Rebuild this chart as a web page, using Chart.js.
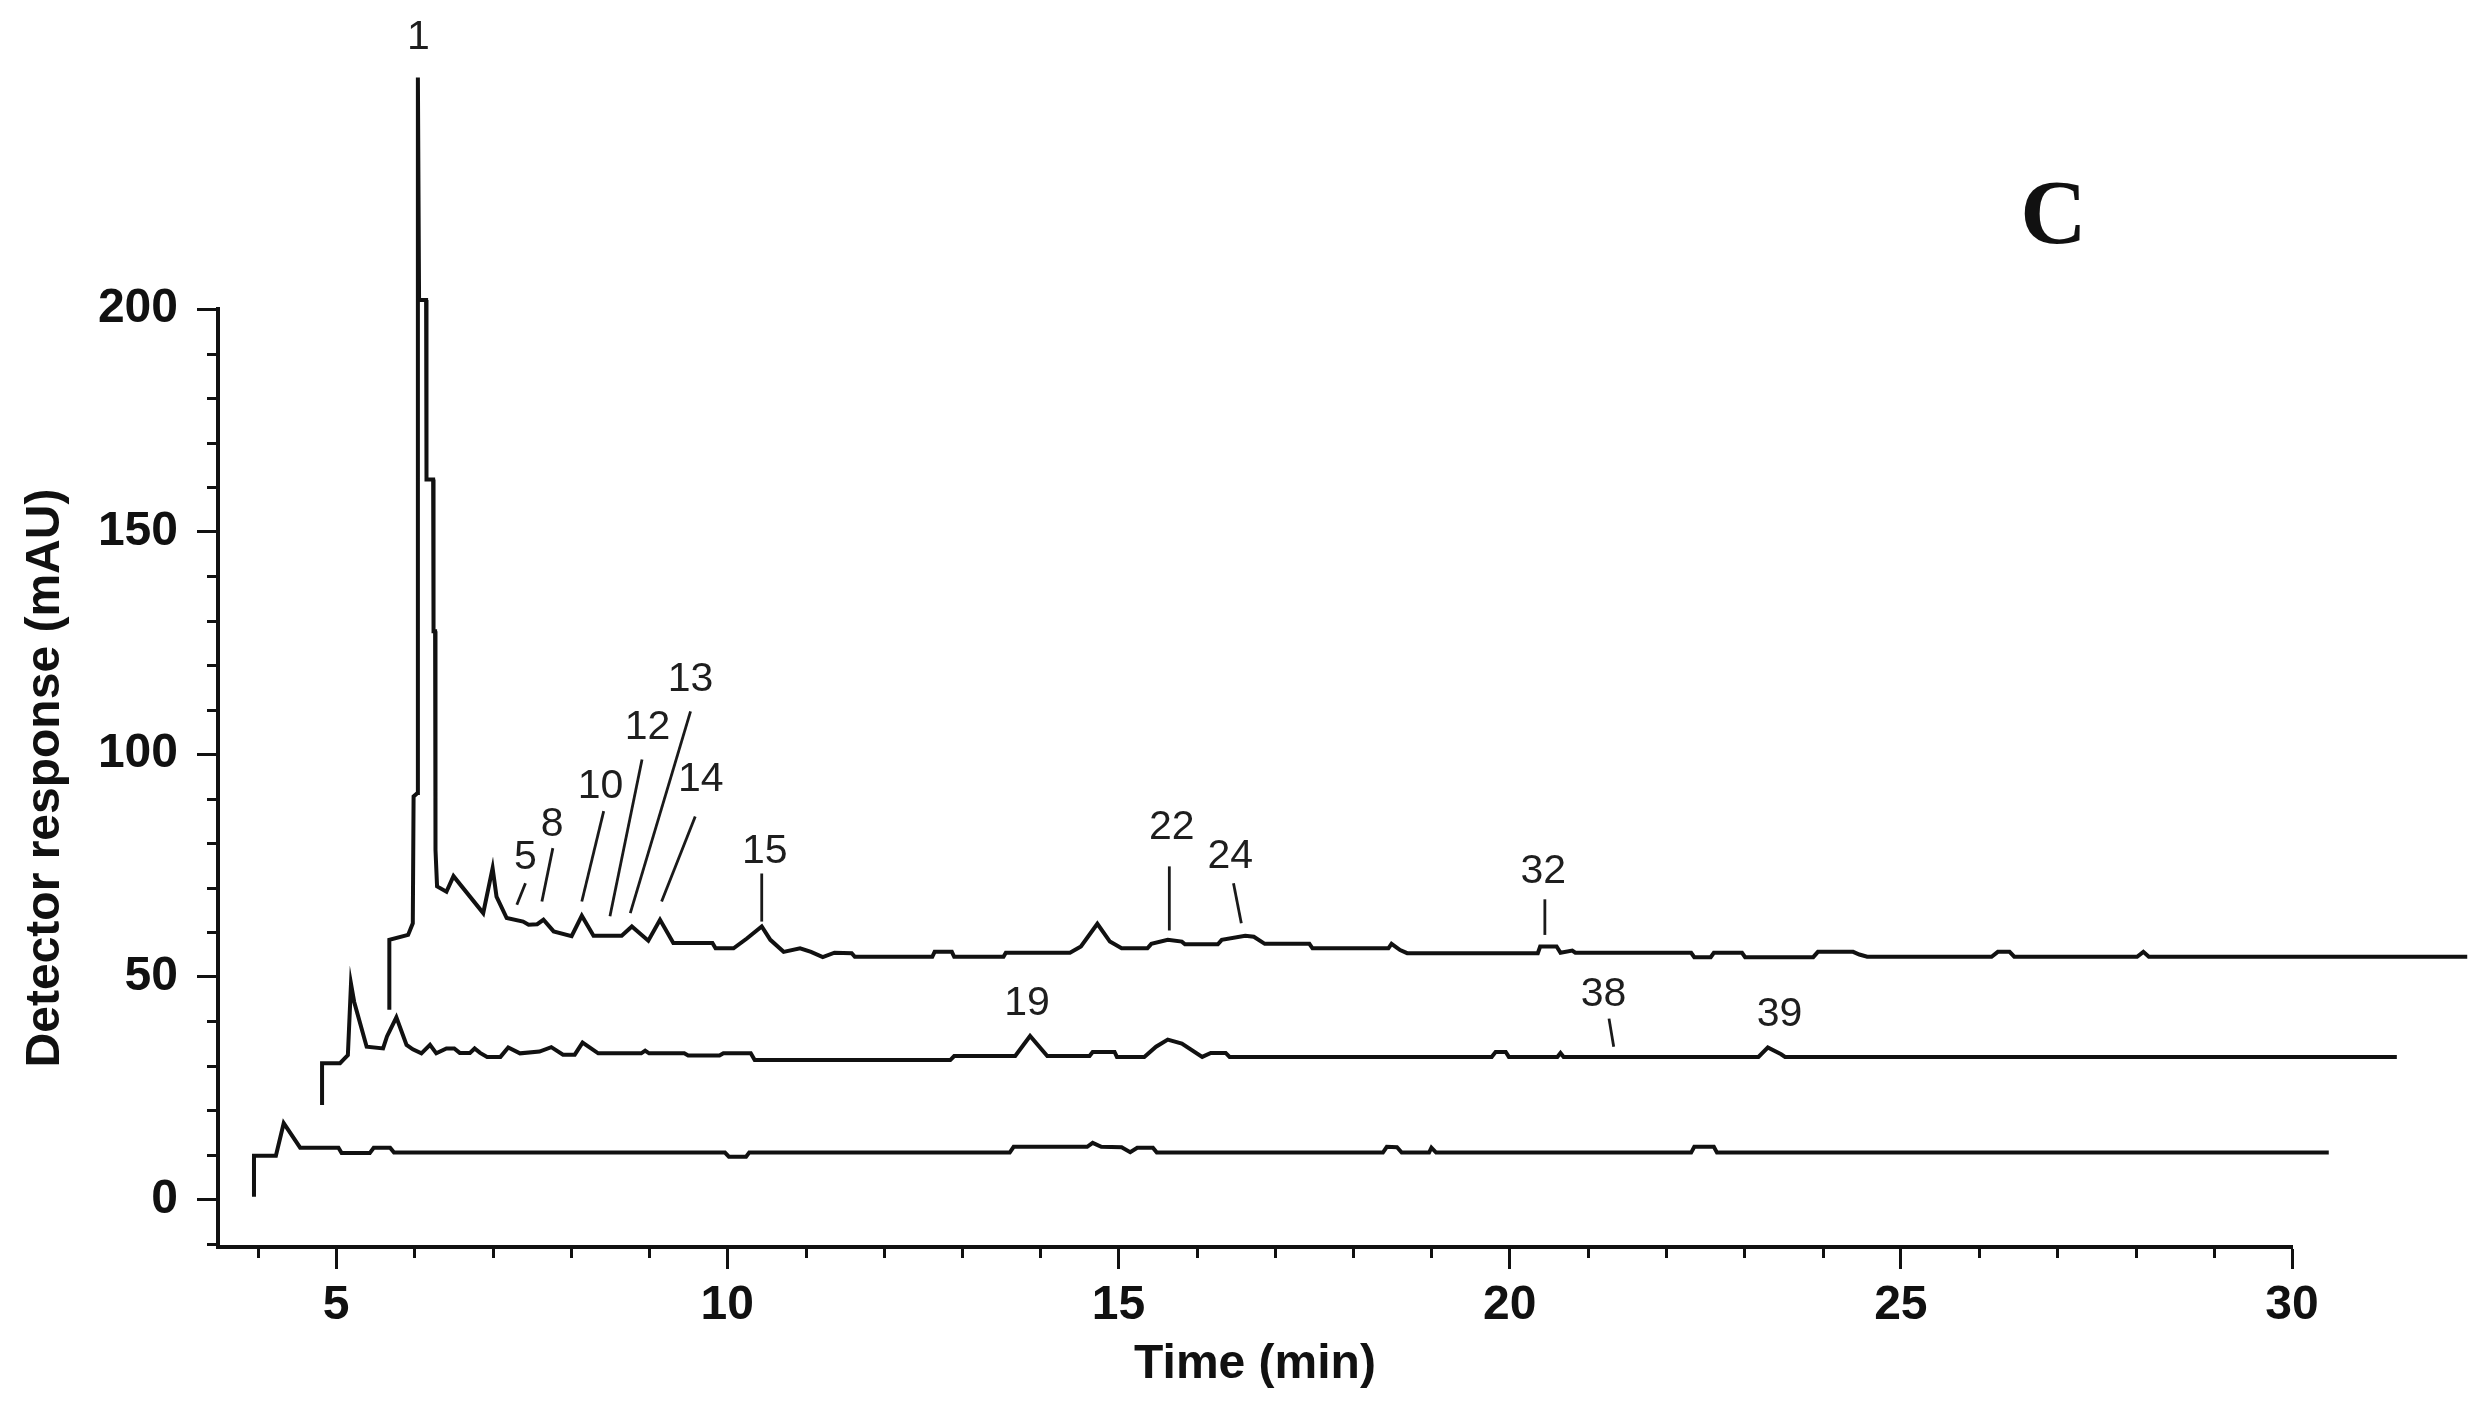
<!DOCTYPE html>
<html>
<head>
<meta charset="utf-8">
<script src="https://cdn.jsdelivr.net/npm/chart.js@4.4.1/dist/chart.umd.min.js"></script>
<style>
html,body{margin:0;padding:0;background:#fff;overflow:hidden}
#wrap{width:2491px;height:1425px;position:relative;background:#fff}
</style>
</head>
<body>
<div id="wrap"><canvas id="c" width="2491" height="1425"></canvas></div>
<script>
// ---------------- data ----------------
const xTickLabels = [5, 10, 15, 20, 25, 30];
const yTickLabels = [0, 50, 100, 150, 200];
const xMinorTicks = [4, 6, 7, 8, 9, 11, 12, 13, 14, 16, 17, 18, 19, 21, 22, 23, 24, 26, 27, 28, 29];
const yMinorTicks = [-10, 10, 20, 30, 40, 60, 70, 80, 90, 110, 120, 130, 140, 160, 170, 180, 190];

// upper chromatogram
const topTime = [5.68, 5.68, 5.92, 5.98, 5.99, 6.04, 6.045, 6.06, 6.15, 6.155, 6.24, 6.245, 6.265, 6.27, 6.29,
  6.41, 6.50, 6.88, 7.00, 7.05, 7.18, 7.39, 7.46, 7.57, 7.65, 7.78, 8.01, 8.14, 8.29, 8.65, 8.78, 8.99, 9.14,
  9.31, 9.81, 9.85, 10.08, 10.25, 10.44, 10.55, 10.72, 10.93, 11.07, 11.22, 11.37, 11.59, 11.63, 12.62, 12.65,
  12.87, 12.90, 13.53, 13.56, 14.38, 14.52, 14.73, 14.89, 15.04, 15.37, 15.42, 15.63, 15.81, 15.85, 16.27,
  16.32, 16.62, 16.73, 16.87, 17.44, 17.48, 18.45, 18.49, 18.60, 18.69, 20.36, 20.39, 20.60, 20.65, 20.80,
  20.84, 22.32, 22.36, 22.57, 22.61, 22.97, 23.01, 23.88, 23.94, 24.39, 24.47, 24.57, 26.16, 26.24, 26.39,
  26.45, 28.02, 28.10, 28.17, 32.24];
const topSignal = [42.6, 58.3, 59.4, 62.0, 90.5, 91.3, 252, 202, 202, 161.7, 161.7, 127.6, 127.6, 78.5, 70.3,
  69.1, 72.6, 64.3, 74.4, 68.0, 63.2, 62.4, 61.7, 61.8, 62.8, 60.2, 59.1, 63.7, 59.2, 59.2, 61.3, 58.1, 62.8,
  57.6, 57.6, 56.4, 56.4, 58.6, 61.3, 58.3, 55.6, 56.4, 55.6, 54.4, 55.4, 55.3, 54.5, 54.5, 55.6,
  55.6, 54.5, 54.5, 55.4, 55.4, 56.8, 61.9, 57.9, 56.4, 56.4, 57.4, 58.3, 57.9, 57.3, 57.3,
  58.3, 59.2, 59.0, 57.4, 57.4, 56.4, 56.4, 57.4, 56.0, 55.3, 55.3, 56.8, 56.8, 55.4, 55.9,
  55.4, 55.4, 54.4, 54.4, 55.4, 55.4, 54.4, 54.4, 55.6, 55.6, 55.0, 54.5, 54.5, 55.6, 55.6,
  54.5, 54.5, 55.6, 54.5, 54.5];

// middle chromatogram
const midTime = [4.82, 4.82, 5.05, 5.10, 5.15, 5.19, 5.23, 5.39, 5.60, 5.65, 5.77, 5.90, 5.98, 6.09, 6.20,
  6.28, 6.41, 6.51, 6.58, 6.71, 6.77, 6.84, 6.93, 7.10, 7.20, 7.35, 7.60, 7.75, 7.90, 8.05, 8.15, 8.35, 8.90,
  8.95, 9.00, 9.45, 9.50, 9.90, 9.95, 10.30, 10.35, 12.85, 12.90, 13.68, 13.87, 14.09, 14.63, 14.67, 14.95,
  14.98, 15.33, 15.48, 15.63, 15.81, 16.07, 16.18, 16.37, 16.42, 19.77, 19.82, 19.95, 19.99, 20.61, 20.65,
  20.69, 23.18, 23.30, 23.47, 23.52, 31.34];
const midSignal = [21.2, 30.6, 30.6, 31.5, 32.4, 48.4, 44.4, 34.3, 33.9, 36.6, 40.9, 34.7, 33.7, 32.8, 34.7,
  32.8, 33.9, 33.9, 32.9, 32.9, 33.9, 32.9, 32.0, 32.0, 34.1, 32.8, 33.2, 34.2, 32.5, 32.5, 35.2, 32.8, 32.8,
  33.4, 32.8, 32.8, 32.3, 32.3, 32.8, 32.8, 31.3, 31.3, 32.2, 32.2, 36.7, 32.2, 32.2, 33.1, 33.1,
  32.0, 32.0, 34.3, 35.9, 35.0, 32.0, 32.9, 32.9, 32.0, 32.0, 33.1, 33.1, 32.0, 32.0, 32.9,
  32.0, 32.0, 34.1, 32.6, 32.0, 32.0];

// lower chromatogram
const botTime = [3.95, 3.95, 4.23, 4.33, 4.54, 5.03, 5.07, 5.43, 5.48, 5.69, 5.74, 9.97, 10.02, 10.24, 10.28,
  13.61, 13.66, 14.60, 14.67, 14.78, 15.04, 15.15, 15.24, 15.44, 15.49, 18.38, 18.43, 18.56, 18.62, 18.97,
  19.00, 19.06, 22.32, 22.36, 22.61, 22.65, 30.47];
const botSignal = [0.6, 9.8, 9.8, 17.1, 11.6, 11.6, 10.4, 10.4, 11.6, 11.6, 10.5, 10.5, 9.6, 9.6, 10.5,
  10.5, 11.8, 11.8, 12.7, 11.8, 11.7, 10.6, 11.6, 11.6, 10.5, 10.5, 11.8, 11.7, 10.5, 10.5,
  11.6, 10.5, 10.5, 11.8, 11.8, 10.5, 10.5];

// peak numbers (text position in data units)
const peakLabels = ['1', '5', '8', '10', '12', '13', '14', '15', '22', '24', '32', '19', '38', '39'];
const peakLabelX = [6.05, 7.42, 7.76, 8.38, 8.98, 9.53, 9.66, 10.48, 15.68, 16.43, 20.43, 13.83, 21.20, 23.45];
const peakLabelY = [261, 76.7, 84.2, 92.8, 105.9, 116.8, 94.3, 78.1, 83.4, 77.0, 73.6, 44.0, 45.9, 41.4];

// leader lines from peak to number
const leaderX1 = [7.31, 7.63, 8.14, 8.50, 8.76, 9.16, 10.44, 15.65, 16.57, 20.45, 21.33];
const leaderY1 = [66.2, 66.9, 66.9, 63.6, 64.3, 66.9, 62.4, 60.4, 62.0, 59.4, 34.3];
const leaderX2 = [7.42, 7.77, 8.42, 8.91, 9.53, 9.59, 10.44, 15.65, 16.47, 20.45, 21.27];
const leaderY2 = [71.0, 78.9, 87.2, 98.8, 109.6, 86.0, 73.2, 74.8, 71.0, 67.4, 40.6];

const panelLetter = 'C';
const panelPos = [26.95, 220.1];

// ---------------- chart ----------------
const ink = '#111111';
const sans = '"Liberation Sans", Arial, Helvetica, sans-serif';
Chart.defaults.color = ink;

function pts(t, v) { return t.map((x, i) => ({ x: x, y: v[i] })); }

const traceStyle = { showLine: true, pointRadius: 0, borderColor: ink, borderWidth: 4,
  fill: false, tension: 0, clip: false, spanGaps: true };

const datasets = [];
leaderX1.forEach((v, i) => {
  datasets.push(Object.assign({}, traceStyle, {
    label: 'leader ' + i, borderWidth: 2.8, borderColor: '#1a1a1a',
    data: [{ x: leaderX1[i], y: leaderY1[i] }, { x: leaderX2[i], y: leaderY2[i] }]
  }));
});
datasets.push(Object.assign({}, traceStyle, { label: 'Sample 3', data: pts(topTime, topSignal) }));
datasets.push(Object.assign({}, traceStyle, { label: 'Sample 2', data: pts(midTime, midSignal) }));
datasets.push(Object.assign({}, traceStyle, { label: 'Sample 1', data: pts(botTime, botSignal) }));

const decor = {
  id: 'decor',
  afterDraw(chart) {
    const { ctx, chartArea: a, scales: { x, y } } = chart;
    ctx.save();
    ctx.strokeStyle = ink;
    ctx.lineWidth = 3;
    ctx.lineCap = 'butt';
    ctx.beginPath();
    yMinorTicks.forEach(v => {
      const py = Math.round(y.getPixelForValue(v)) + 0.5;
      ctx.moveTo(a.left - 11, py); ctx.lineTo(a.left, py);
    });
    xMinorTicks.forEach(v => {
      const px = Math.round(x.getPixelForValue(v)) + 0.5;
      ctx.moveTo(px, a.bottom); ctx.lineTo(px, a.bottom + 11);
    });
    ctx.stroke();

    ctx.fillStyle = '#1e1e1e';
    ctx.font = '41px ' + sans;
    ctx.textAlign = 'center';
    ctx.textBaseline = 'middle';
    peakLabels.forEach((t, i) => {
      ctx.fillText(t, x.getPixelForValue(peakLabelX[i]), y.getPixelForValue(peakLabelY[i]));
    });

    ctx.fillStyle = ink;
    ctx.font = 'bold 92px "Liberation Serif", "Times New Roman", serif';
    ctx.fillText(panelLetter, x.getPixelForValue(panelPos[0]), y.getPixelForValue(panelPos[1]));
    ctx.restore();
  }
};

function zeroPad(s) { s.paddingTop = 0; s.paddingBottom = 0; s.paddingLeft = 0; s.paddingRight = 0; }

new Chart(document.getElementById('c'), {
  type: 'scatter',
  data: { datasets },
  options: {
    responsive: false,
    maintainAspectRatio: false,
    devicePixelRatio: 1,
    animation: false,
    events: [],
    layout: { padding: { top: 309, right: 199, left: 0, bottom: 0 } },
    plugins: { legend: { display: false }, tooltip: { enabled: false } },
    scales: {
      x: {
        type: 'linear', min: 3.49, max: 30,
        afterBuildTicks: s => { s.ticks = xTickLabels.map(v => ({ value: v })); },
        afterFit: s => { s.height = 178; zeroPad(s); },
        ticks: { autoSkip: false, maxRotation: 0, minRotation: 0, padding: 8, color: ink,
          font: { family: sans, size: 48, weight: 'bold' } },
        grid: { drawOnChartArea: false, drawTicks: true, tickLength: 22, tickWidth: 3, tickColor: ink },
        border: { display: true, width: 4, color: ink },
        title: { display: true, text: 'Time (min)', color: ink, padding: { top: 0, bottom: 31 },
          font: { family: sans, size: 48, weight: 'bold' } }
      },
      y: {
        type: 'linear', min: -10.7, max: 200,
        afterBuildTicks: s => { s.ticks = yTickLabels.map(v => ({ value: v })); },
        afterFit: s => { s.width = 218; zeroPad(s); },
        ticks: { autoSkip: false, padding: 19, color: ink,
          font: { family: sans, size: 48, weight: 'bold' } },
        grid: { drawOnChartArea: false, drawTicks: true, tickLength: 21, tickWidth: 3, tickColor: ink },
        border: { display: true, width: 4, color: ink },
        title: { display: true, text: 'Detector response (mAU)', color: ink, padding: { top: 17, bottom: 0 },
          font: { family: sans, size: 48, weight: 'bold' } }
      }
    }
  },
  plugins: [decor]
});
</script>
</body>
</html>
